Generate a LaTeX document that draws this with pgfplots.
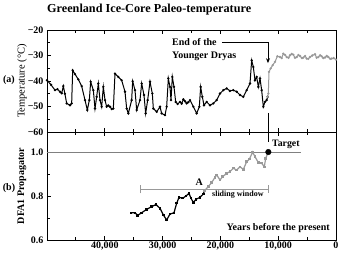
\documentclass[border=0pt]{standalone}
\usepackage{pgfplots}
\pgfplotsset{compat=1.18}
\usepackage{fontspec}
\setmainfont{Liberation Serif}
\usetikzlibrary{arrows.meta}
\definecolor{lgray}{gray}{0.6}
\begin{document}
\begin{tikzpicture}
\path[use as bounding box] (0pt,0pt) rectangle (342pt,-256pt);
\pgfplotsset{
  every axis/.append style={
    scale only axis, width=289pt, x dir=reverse, xmin=0, xmax=50000,
    scaled x ticks=false, scaled y ticks=false,
    axis line style={line width=0.8pt},
    tick style={line width=0.8pt, black},
    major tick length=4pt, minor tick length=3pt,
    xtick={0,10000,20000,30000,40000},
    minor xtick={5000,15000,25000,35000,45000},
    ytick pos=left,
    tick label style={font=\bfseries\fontsize{10}{12}\selectfont},
    xticklabel style={yshift=1.5pt},
    clip=false,
  }
}
\begin{axis}[
  at={(47pt,-132pt)}, anchor=south west, height=102pt,
  ymin=-60, ymax=-20,
  ytick={-60,-50,-40,-30,-20},
  yticklabels={−60,−50,−40,−30,−20},
  minor ytick={-55,-45,-35,-25},
  xticklabels={},
  ylabel={Temperature (°C)},
  ylabel style={at={(axis description cs:-0.0865,0.5)}, anchor=center, font=\fontsize{10.5}{12}\selectfont},
]
\addplot[black, line width=1pt, mark=*, mark size=0.6pt] coordinates {
(50000,-39.7) (49300,-41.5) (48615,-43.6) (48200,-43.2) (47750,-44.2) (47450,-44.8) (47174,-42.0)
(46900,-45.0) (46597,-48.8) (46020,-49.5) (45732,-48.8) (45559,-35.8) (45155,-37.3)
(44579,-39.4) (44002,-42.0) (43425,-47.5) (43021,-51.4) (42675,-47.5) (42445,-40.3)
(41983,-43.6) (41695,-50.8) (41407,-46.2) (41119,-41.0) (40830,-47.5) (40542,-50.1)
(40254,-42.3) (39965,-47.5) (39677,-50.1) (39400,-49.6) (39100,-50.1) (38800,-51.0) (38523,-50.8)
(38235,-37.1) (37658,-38.4) (37082,-39.7) (36505,-44.2) (36217,-50.8) (35928,-52.7)
(35352,-47.5) (35179,-40.1) (34775,-43.6) (34487,-51.4) (33910,-47.5) (33622,-41.0)
(33218,-45.5) (32930,-52.7) (32584,-47.5) (32180,-40.3) (31777,-44.9) (31603,-50.8)
(31026,-52.1) (30450,-50.1) (30161,-52.7) (29585,-53.4) (29296,-50.1) (29008,-39.0)
(28720,-42.3) (28546,-47.5) (28316,-38.4) (28027,-42.3) (27739,-48.2) (27400,-49.0) (26989,-48.2)
(26700,-48.9) (26412,-47.2) (26100,-48.0) (25836,-48.8) (25550,-48.3) (25259,-47.5) (24682,-50.1) (24106,-52.7)
(23645,-50.1) (23414,-42.3) (23126,-46.2) (22837,-49.5) (22376,-48.2) (21799,-49.5)
(21222,-48.8) (20646,-47.5) (20069,-44.9) (19492,-43.6) (18915,-42.9) (18339,-43.9)
(17762,-43.6) (17185,-44.2) (16609,-45.5) (16032,-46.2) (15455,-43.6) (14879,-41.0)
(14590,-31.9) (14302,-34.5) (14014,-39.7) (13725,-38.4) (13437,-42.3) (13149,-39.0)
(12860,-43.6) (12572,-50.1) (12283,-48.2) (11995,-47.5) (11822,-46.2)
};
\addplot[lgray, line width=1pt, mark=*, mark size=0.6pt] coordinates {
(11822,-46.2) (11707,-44.9) (11591,-36.4) (11303,-35.1) (10957,-33.8) (10553,-32.5)
(10150,-30.3) (9687,-30.6) (9400,-31.0) (9111,-29.3) (8800,-29.8) (8534,-30.6) (8200,-30.9)
(7958,-29.9) (7650,-29.4) (7381,-29.7) (7100,-30.9) (6804,-30.6) (6500,-29.8) (6228,-30.2)
(5900,-31.0) (5651,-30.8) (5350,-30.2) (5074,-31.2) (4800,-31.3) (4498,-30.6) (4100,-30.0)
(3633,-29.5) (3350,-30.9) (3056,-30.6) (2750,-29.9) (2480,-30.3) (2200,-31.0) (1903,-30.8)
(1600,-30.2) (1326,-30.6) (1000,-31.3) (750,-31.2) (400,-31.0) (0,-31.6)
};
\draw[line width=1.6pt] (axis cs:11707,-52.5) -- ++(0pt,-29pt);
\draw[line width=0.8pt, -{Stealth[length=5pt,width=4pt]}] (axis cs:19725,-24.8) -- (axis cs:11767,-24.8) -- (axis cs:11767,-33.0);
\node[anchor=west, inner sep=0pt, font=\bfseries\fontsize{10}{12}\selectfont] at (axis cs:28375,-24.8) {End of the};
\node[anchor=west, inner sep=0pt, font=\bfseries\fontsize{10}{12}\selectfont] at (axis cs:28375,-30.3) {Younger Dryas};
\end{axis}
\begin{axis}[
  at={(47pt,-240pt)}, anchor=south west, height=108pt,
  ymin=0.6, ymax=1.091,
  ytick={0.6,0.8,1.0},
  yticklabels={0.6,0.8,1.0},
  minor ytick={0.7,0.9},
  xticklabels={0,{10,000},{20,000},{30,000},{40,000}},
  ylabel={DFA1 Propagator},
  ylabel style={at={(axis description cs:-0.0865,0.5)}, anchor=center, font=\bfseries\fontsize{10}{12}\selectfont},
]
\addplot[gray, line width=0.6pt] coordinates {(50000,1) (6000,1)};
\draw[lgray, line width=0.8pt, {Bar[width=8pt]}-{Bar[width=8pt]}] (axis cs:33900,0.83) -- (axis cs:11540,0.83);
\addplot[black, line width=1.2pt, mark=square*, mark size=0.6pt] coordinates {
(35467,0.724) (34775,0.724) (34313,0.712) (33622,0.724) (32756,0.739) (31891,0.752)
(31141,0.761) (30450,0.744) (29873,0.714) (29296,0.691) (28720,0.718) (28027,0.724)
(27566,0.767) (27162,0.794) (26528,0.790) (25952,0.800) (25433,0.812) (25087,0.790)
(24682,0.770) (24221,0.785) (23529,0.794) (22952,0.809) (22779,0.823)
};
\addplot[lgray, line width=1.2pt, mark=square*, mark size=0.6pt] coordinates {
(22779,0.823) (22088,0.843) (21511,0.861) (20934,0.885) (20646,0.896) (20069,0.873)
(19608,0.888) (18915,0.903) (18339,0.911) (17762,0.926) (17185,0.918) (16609,0.933)
(16032,0.921) (15455,0.956) (14994,0.967) (14417,1.0) (14014,0.979) (13437,0.952)
(12860,0.949) (12399,0.933) (12168,0.971) (11707,1.0)
};
\addplot[only marks, black, mark=*, mark size=2.8pt] coordinates {(11707,1.0)};
\node[anchor=west, inner sep=0pt, font=\bfseries\fontsize{9.8}{12}\selectfont] at (axis cs:11075,1.036) {Target};
\node[inner sep=0pt, font=\bfseries\fontsize{10}{12}\selectfont] at (axis cs:23650,0.864) {A};
\node[anchor=west, inner sep=0pt, font=\bfseries\fontsize{8}{10}\selectfont] at (axis cs:21455,0.805) {sliding window};
\node[anchor=east, inner sep=0pt, font=\bfseries\fontsize{10}{12}\selectfont] at (axis cs:1041,0.655) {Years before the present};
\end{axis}
\node[anchor=west, inner sep=0pt, font=\bfseries\fontsize{12.2}{14}\selectfont] at (47pt,-10pt) {Greenland Ice-Core Paleo-temperature};
\node[font=\bfseries\fontsize{10}{12}\selectfont] at (9pt,-80pt) {(a)};
\node[font=\bfseries\fontsize{10}{12}\selectfont] at (9pt,-188pt) {(b)};
\end{tikzpicture}
\end{document}
